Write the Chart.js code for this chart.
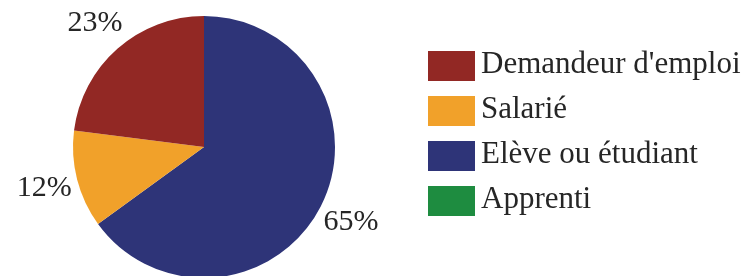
<!DOCTYPE html>
<html>
<head>
<meta charset="utf-8">
<script src="https://cdn.jsdelivr.net/npm/chart.js@4"></script>
<style>
  html, body { margin: 0; padding: 0; background: #fff; overflow: hidden; }
  #wrap { width: 747px; height: 276px; position: relative; }
</style>
</head>
<body>
<div id="wrap"><canvas id="pieChart"></canvas></div>
<script>
// Data
const categories = ["Demandeur d'emploi", 'Salarié', 'Elève ou étudiant', 'Apprenti'];
const shares = [23, 12, 65, 0];
const colors = ['#922824', '#F1A12A', '#2E3478', '#1E8C40'];

const FONT = '"Liberation Serif", "Times New Roman", serif';

// the reference runs its slices counter-clockwise, so feed them reversed
const drawLabels = categories.slice().reverse();
const drawValues = shares.slice().reverse();
const drawColors = colors.slice().reverse();

// percentage labels outside each slice
const outsideLabels = {
    id: 'outsideLabels',
    afterDatasetsDraw(chart) {
        const ctx = chart.ctx;
        const meta = chart.getDatasetMeta(0);
        ctx.save();
        ctx.font = '30px ' + FONT;
        ctx.fillStyle = '#262626';
        ctx.textAlign = 'center';
        ctx.textBaseline = 'middle';
        meta.data.forEach((arc, i) => {
            const v = drawValues[i];
            if (!v) return;
            const p = arc.getProps(['x', 'y', 'startAngle', 'endAngle', 'outerRadius'], true);
            const mid = (p.startAngle + p.endAngle) / 2;
            const d = p.outerRadius + 34;
            ctx.fillText(v + '%', p.x + Math.cos(mid) * d, p.y + Math.sin(mid) * d);
        });
        ctx.restore();
    }
};

// legend on the right, in the original category order
const sideLegend = {
    id: 'sideLegend',
    afterDraw(chart) {
        const ctx = chart.ctx;
        ctx.save();
        ctx.font = '31px ' + FONT;
        ctx.textBaseline = 'alphabetic';
        ctx.textAlign = 'left';
        categories.forEach((name, i) => {
            const y = 51 + i * 45;
            ctx.fillStyle = colors[i];
            ctx.fillRect(428, y, 47, 30);
            ctx.fillStyle = '#262626';
            ctx.fillText(name, 481, y + 22);
        });
        ctx.restore();
    }
};

const ctx = document.getElementById('pieChart').getContext('2d');
const pieChart = new Chart(ctx, {
    type: 'pie',
    data: {
        labels: drawLabels,
        datasets: [{
            data: drawValues,
            backgroundColor: drawColors,
            borderWidth: 0
        }]
    },
    options: {
        responsive: true,
        maintainAspectRatio: false,
        animation: false,
        radius: 131,
        layout: {
            padding: { left: 73, right: 412, top: 18, bottom: 0 }
        },
        plugins: {
            legend: { display: false },
            tooltip: { enabled: false }
        }
    },
    plugins: [outsideLabels, sideLegend]
});
</script>
</body>
</html>
